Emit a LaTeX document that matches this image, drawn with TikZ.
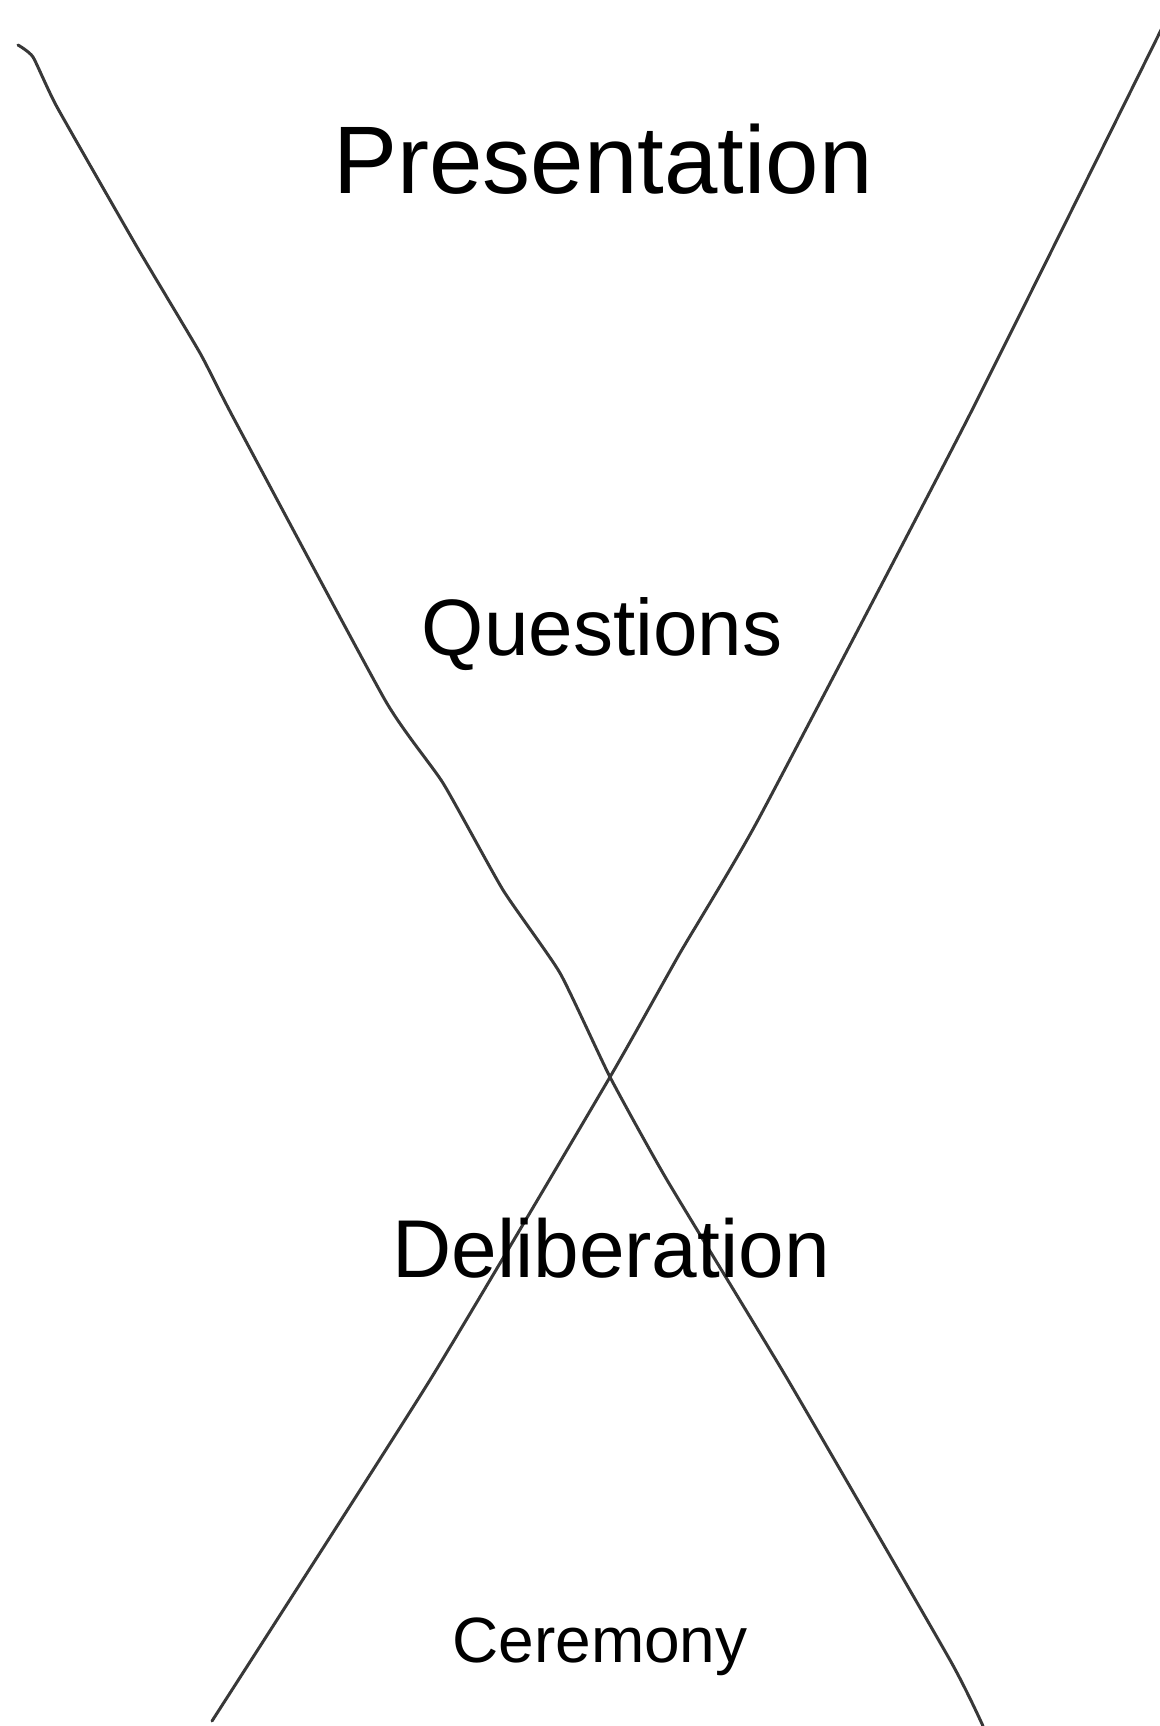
\documentclass[tikz,border=0pt]{standalone}
\usepackage{fontspec}
\setmainfont{Liberation Sans}
\begin{document}
\begin{tikzpicture}[x=0.5pt,y=-0.5pt,
  stroke/.style={draw=black!78,line width=1.5pt,line cap=round,line join=round},
  label/.style={anchor=base,inner sep=0pt,text=black}]
\useasboundingbox (0,0) rectangle (1160,1726);
\coordinate (tl) at (18,45);
\coordinate (tr) at (1162,28);
\coordinate (bl) at (212,1721);
\coordinate (br) at (983,1726);
\coordinate (x) at (610,1077);
\draw[stroke] plot[smooth,tension=0.3] coordinates {(tl) (33,57) (57,107) (137,247)
  (200,353) (233,417) (385,700) (443,783) (503,890) (560,973) (x) (667,1180)
  (788,1380) (950,1660) (br)};
\draw[stroke] plot[smooth,tension=0.3] coordinates {(tr) (967,420) (758,820) (680,953)
  (x) (430,1380) (bl)};
\node[label,font=\fontsize{48}{56}\selectfont] (pres) at (603,193) {Presentation};
\node[label,font=\fontsize{40}{48}\selectfont] (ques) at (602,655) {Questions};
\node[label,font=\fontsize{41}{48}\selectfont] (deli) at (611,1277) {Deliberation};
\node[label,font=\fontsize{32}{40}\selectfont] (cere) at (600,1662) {Ceremony};
\end{tikzpicture}
\end{document}
